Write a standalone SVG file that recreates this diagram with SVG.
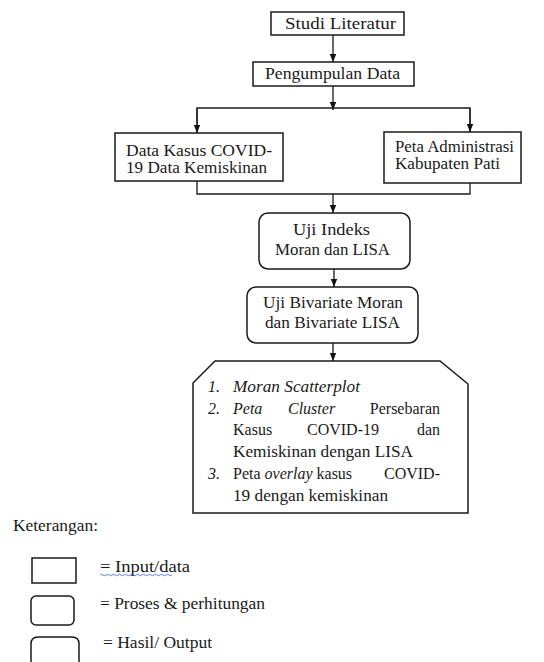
<svg xmlns="http://www.w3.org/2000/svg" width="544" height="662" viewBox="0 0 544 662">
<defs>
<marker id="ah" viewBox="0 0 8 8" refX="8" refY="4" markerWidth="8" markerHeight="8" markerUnits="userSpaceOnUse" orient="auto">
<path d="M0,0.8 L8,4 L0,7.2 Z" fill="#111"/>
</marker>
<style>
.b{fill:#fff;stroke:#1a1a1a;stroke-width:1.5}
.c{fill:none;stroke:#1a1a1a;stroke-width:1.3}
.i{font-style:italic}
</style>
</defs>
<rect width="544" height="662" fill="#fff"/>

<g id="connectors">
<line class="c" x1="333" y1="35" x2="333" y2="62" marker-end="url(#ah)"/>
<line class="c" x1="333" y1="86" x2="333" y2="110" marker-end="url(#ah)"/>
<polyline class="c" points="197,133 197,108 470,108 470,132"/>
<line class="c" x1="197" y1="108" x2="197" y2="133" marker-end="url(#ah)"/>
<line class="c" x1="470" y1="108" x2="470" y2="132" marker-end="url(#ah)"/>
<polyline class="c" points="197,181 197,194 470,194 470,183"/>
<line class="c" x1="333" y1="194" x2="333" y2="213" marker-end="url(#ah)"/>
<line class="c" x1="334" y1="269" x2="334" y2="287" marker-end="url(#ah)"/>
<line class="c" x1="333" y1="343" x2="333" y2="361" marker-end="url(#ah)"/>
</g>

<g font-family="Liberation Serif" font-size="16" fill="#1a1a1a">
<g id="studi">
<rect class="b" x="271" y="12" width="133" height="23"/>
<text x="285" y="29" textLength="111" lengthAdjust="spacingAndGlyphs">Studi Literatur</text>
</g>

<g id="pengumpulan">
<rect class="b" x="253" y="62" width="161" height="24"/>
<text x="265" y="79" textLength="135" lengthAdjust="spacingAndGlyphs">Pengumpulan Data</text>
</g>

<g id="data-kasus">
<rect class="b" x="115" y="133" width="168" height="48"/>
<text x="126" y="156" textLength="146" lengthAdjust="spacingAndGlyphs">Data Kasus COVID-</text>
<text x="126" y="173" textLength="141" lengthAdjust="spacingAndGlyphs">19 Data Kemiskinan</text>
</g>

<g id="peta-admin">
<rect class="b" x="384" y="132" width="137" height="51"/>
<text x="395" y="152" textLength="119" lengthAdjust="spacingAndGlyphs">Peta Administrasi</text>
<text x="395" y="169" textLength="105" lengthAdjust="spacingAndGlyphs">Kabupaten Pati</text>
</g>

<g id="uji-indeks">
<rect class="b" x="259" y="213" width="151" height="56" rx="9"/>
<text x="293" y="235" textLength="77" lengthAdjust="spacingAndGlyphs">Uji Indeks</text>
<text x="275" y="255" textLength="115" lengthAdjust="spacingAndGlyphs">Moran dan LISA</text>
</g>

<g id="uji-bivariate">
<rect class="b" x="247" y="287" width="171" height="56" rx="9"/>
<text x="263" y="308" textLength="140" lengthAdjust="spacingAndGlyphs">Uji Bivariate Moran</text>
<text x="265" y="328" textLength="135" lengthAdjust="spacingAndGlyphs">dan Bivariate LISA</text>
</g>

<g id="hasil">
<path class="b" d="M215,361 L440,361 L468,384 L468,513 L193,513 L193,383 Z"/>
<text class="i" x="208" y="392">1.</text>
<text class="i" x="233" y="392" textLength="127" lengthAdjust="spacingAndGlyphs">Moran Scatterplot</text>
<text class="i" x="208" y="414">2.</text>
<text class="i" x="233" y="414">Peta</text>
<text class="i" x="288" y="414">Cluster</text>
<text x="440" y="414" text-anchor="end">Persebaran</text>
<text x="233" y="435">Kasus</text>
<text x="307" y="435">COVID-19</text>
<text x="440" y="435" text-anchor="end">dan</text>
<text x="233" y="457" textLength="180" lengthAdjust="spacingAndGlyphs">Kemiskinan dengan LISA</text>
<text class="i" x="208" y="479">3.</text>
<text x="233" y="479">Peta <tspan class="i">overlay</tspan> kasus</text>
<text x="440" y="479" text-anchor="end">COVID-</text>
<text x="233" y="501" textLength="155" lengthAdjust="spacingAndGlyphs">19 dengan kemiskinan</text>
</g>

<g id="legend">
<text x="13" y="531" textLength="85" lengthAdjust="spacingAndGlyphs">Keterangan:</text>
<rect class="b" x="32" y="558" width="44" height="25"/>
<text x="100" y="572" textLength="90" lengthAdjust="spacingAndGlyphs">= Input/data</text>
<path d="M100,575 q1.5,-1.5 3,0 t3,0 t3,0 t3,0 t3,0 t3,0 t3,0 t3,0 t3,0 t3,0 t3,0 t3,0 t3,0 t3,0 t3,0 t3,0 t3,0 t3,0 t3,0 t3,0 t3,0 t3,0 t3,0 t3,0" fill="none" stroke="#3b5bdb" stroke-width="0.8"/>
<rect class="b" x="31" y="596" width="43" height="29" rx="5"/>
<text x="100" y="609" textLength="165" lengthAdjust="spacingAndGlyphs">= Proses &amp; perhitungan</text>
<path class="b" d="M31,664 L31,644 Q31,637 38,637 L72,637 Q79,637 79,644 L79,664"/>
<text x="103" y="648" textLength="109" lengthAdjust="spacingAndGlyphs">= Hasil/ Output</text>
</g>
</g>
</svg>
